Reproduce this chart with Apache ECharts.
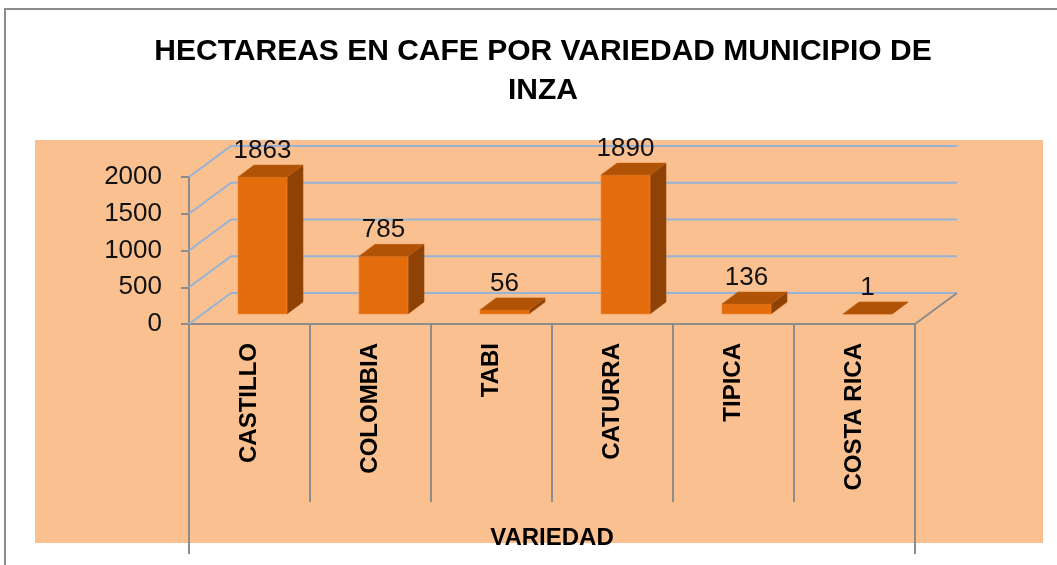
<!DOCTYPE html>
<html>
<head>
<meta charset="utf-8">
<script src="https://cdn.jsdelivr.net/npm/echarts@6/dist/echarts.min.js"></script>
<style>
  html, body { margin: 0; padding: 0; background: #fff; }
  #chart { width: 1057px; height: 565px; }
</style>
</head>
<body>
<div id="chart"></div>
<script>
// datos
var variedades = ['CASTILLO', 'COLOMBIA', 'TABI', 'CATURRA', 'TIPICA', 'COSTA RICA']
var hectareas = [1863, 785, 56, 1890, 136, 1]
var yTicks = [0, 500, 1000, 1500, 2000]

// profundidad del "3D"
var WALL_DX = 42, WALL_DY = -31
var BAR_OX = 13, BAR_OY = -10
var BAR_DX = 16, BAR_DY = -12

var myChart = echarts.init(document.getElementById('chart'))

// paredes y lineas de cuadricula del fondo
function renderFrame (params, api) {
  var cs = params.coordSys
  var left = cs.x
  var right = cs.x + cs.width
  var v = api.value(0)
  var y = api.coord([0, v])[1]
  var grid = { stroke: '#95B3D7', lineWidth: 2 }
  var gray = { stroke: '#8C8C8C', lineWidth: 2 }
  var children = [
    { type: 'line', shape: { x1: left, y1: y, x2: left + WALL_DX, y2: y + WALL_DY }, style: grid },
    { type: 'line', shape: { x1: left + WALL_DX, y1: y + WALL_DY, x2: right + WALL_DX, y2: y + WALL_DY }, style: grid }
  ]
  if (v === 0) {
    children.push({ type: 'line', shape: { x1: right, y1: y, x2: right + WALL_DX, y2: y + WALL_DY }, style: gray })
    children.push({ type: 'line', shape: { x1: left, y1: y, x2: left, y2: y + 230 }, style: gray })
    children.push({ type: 'line', shape: { x1: right, y1: y, x2: right, y2: y + 230 }, style: gray })
  }
  return { type: 'group', children: children }
}

// barras 3D
function renderBar (params, api) {
  var i = api.value(0)
  var v = api.value(1)
  var base = api.coord([i, 0])
  var top = api.coord([i, v])
  var hw = api.size([1, 0])[0] * 0.405 / 2
  var x1 = base[0] - hw + BAR_OX
  var x2 = base[0] + hw + BAR_OX
  var yb = base[1] + BAR_OY
  var yt = top[1] + BAR_OY
  return {
    type: 'group',
    children: [
      {
        type: 'polygon',
        shape: { points: [[x2, yt], [x2, yb], [x2 + BAR_DX, yb + BAR_DY], [x2 + BAR_DX, yt + BAR_DY]] },
        style: { fill: '#8F4205', stroke: '#A04A08', lineWidth: 0.6 }
      },
      {
        type: 'rect',
        shape: { x: x1, y: yt, width: x2 - x1, height: yb - yt },
        style: { fill: '#E46C0A', stroke: '#EE8A3A', lineWidth: 0.6 }
      },
      {
        type: 'polygon',
        shape: { points: [[x1, yt], [x2, yt], [x2 + BAR_DX, yt + BAR_DY], [x1 + BAR_DX, yt + BAR_DY]] },
        style: { fill: '#B05306', stroke: '#C26210', lineWidth: 0.6 }
      },
      {
        type: 'text',
        style: {
          x: (x1 + x2) / 2,
          y: yt - 26,
          text: String(v),
          fill: '#111',
          font: '26px "Liberation Sans"',
          align: 'center',
          verticalAlign: 'middle'
        }
      }
    ]
  }
}

var option = {
  backgroundColor: '#fff',
  animation: false,
  title: {
    text: 'HECTAREAS EN CAFE POR VARIEDAD MUNICIPIO DE\nINZA',
    left: 538,
    top: 27,
    textAlign: 'center',
    textStyle: {
      fontFamily: 'Liberation Sans',
      fontWeight: 'bold',
      fontSize: 30,
      lineHeight: 39,
      color: '#000'
    }
  },
  graphic: [
    {
      type: 'rect',
      z: -10,
      shape: { x: 5, y: 9, width: 1100, height: 600 },
      style: { fill: '#fff', stroke: '#8C8C8C', lineWidth: 2 }
    },
    {
      type: 'rect',
      z: -9,
      shape: { x: 35, y: 140, width: 1008, height: 403 },
      style: { fill: '#FAC090' }
    }
  ],
  grid: {
    left: 189,
    right: 142,
    top: 177,
    bottom: 241
  },
  xAxis: {
    type: 'category',
    data: variedades,
    boundaryGap: true,
    name: 'VARIEDAD',
    nameLocation: 'middle',
    nameGap: 202,
    nameTextStyle: {
      fontFamily: 'Liberation Sans',
      fontWeight: 'bold',
      fontSize: 24,
      color: '#000'
    },
    axisLine: { lineStyle: { color: '#8C8C8C', width: 2 } },
    axisTick: { show: true, length: 178, lineStyle: { color: '#8C8C8C', width: 2 } },
    axisLabel: {
      rotate: 90,
      margin: 19,
      fontFamily: 'Liberation Sans',
      fontWeight: 'bold',
      fontSize: 24,
      color: '#000'
    },
    splitLine: { show: false }
  },
  yAxis: {
    type: 'value',
    min: 0,
    max: 2000,
    interval: 500,
    axisLine: { show: true, lineStyle: { color: '#8C8C8C', width: 2 } },
    axisTick: { show: true, length: 8, lineStyle: { color: '#8C8C8C', width: 2 } },
    axisLabel: {
      margin: 27,
      fontFamily: 'Liberation Sans',
      fontSize: 26,
      color: '#111',
      formatter: function (v) { return String(v) }
    },
    splitLine: { show: false }
  },
  series: [
    {
      type: 'custom',
      z: 1,
      renderItem: renderFrame,
      data: yTicks.map(function (t) { return [t] }),
      encode: { y: 0 },
      silent: true
    },
    {
      type: 'custom',
      z: 3,
      renderItem: renderBar,
      data: hectareas.map(function (h, i) { return [i, h] }),
      encode: { x: 0, y: 1 }
    }
  ]
}

myChart.setOption(option)
</script>
</body>
</html>
